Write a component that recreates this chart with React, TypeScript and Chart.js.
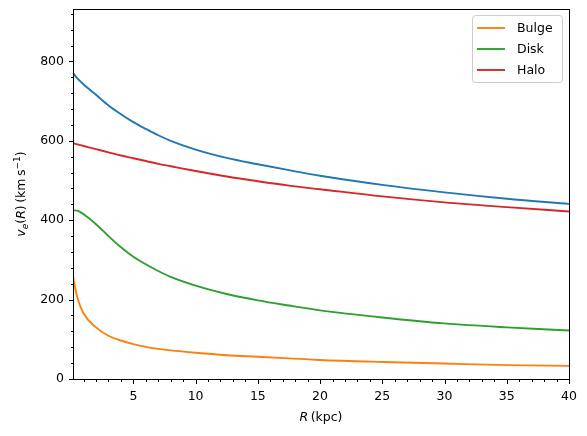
import React, { useEffect, useRef } from "react";
import { Chart, registerables } from "chart.js";

Chart.register(...registerables);

// Galactocentric radius R (kpc)
const radius = [0.15, 0.5, 1, 2, 3, 4, 5, 6, 7, 8, 10, 12.5, 15, 17.5, 20, 25, 30, 35, 40];
// Escape velocity v_e(R) (km/s)
const totalV = [771, 757, 742, 716, 689, 667, 647, 630, 614, 600, 578, 557, 541, 526, 512, 489, 470, 454, 441];
const bulgeV = [258, 205, 165, 130, 109, 97, 88, 81, 76, 72, 66, 60, 56, 52, 48, 43, 39, 35, 33];
const diskV = [425, 424, 415, 390, 360, 332, 308, 289, 272, 257, 235, 214, 198, 185, 173, 155, 140, 130, 122];
const haloV = [594, 591, 587, 579, 571, 563, 556, 549, 542, 536, 524, 510, 498, 487, 478, 460, 445, 433, 422];

const seriesLabels = ["", "Bulge", "Disk", "Halo"];
const seriesColors = ["#1f77b4", "#ff7f0e", "#2ca02c", "#d62728"];

const xMajorTicks = [5, 10, 15, 20, 25, 30, 35, 40];
const yMajorTicks = [0, 200, 400, 600, 800];
const xMinorStep = 1;
const yMinorStep = 40;
const xRange = [0.15, 40];
const yRange = [0, 932];

const FONT = "DejaVu Sans";
const FS = 12.5;

type Run = { t: string; italic?: boolean; size?: number; dy?: number };

function drawRuns(ctx: CanvasRenderingContext2D, runs: Run[], cx: number, by: number) {
  const fontOf = (r: Run) => `${r.italic ? "italic " : ""}${r.size ?? FS}px "${FONT}"`;
  let total = 0;
  for (const r of runs) {
    ctx.font = fontOf(r);
    total += ctx.measureText(r.t).width;
  }
  let x = cx - total / 2;
  ctx.textAlign = "left";
  ctx.textBaseline = "alphabetic";
  for (const r of runs) {
    ctx.font = fontOf(r);
    ctx.fillText(r.t, x, by + (r.dy ?? 0));
    x += ctx.measureText(r.t).width;
  }
}

const decorPlugin = {
  id: "decor",
  afterDraw(chart: any) {
    const { ctx, chartArea: a, scales } = chart;
    const xs = scales.x;
    const ys = scales.y;
    ctx.save();
    ctx.strokeStyle = "#000";
    ctx.fillStyle = "#000";
    ctx.lineWidth = 1;
    const L = Math.round(a.left) + 0.5;
    const R = Math.round(a.right) + 0.5;
    const T = Math.round(a.top) + 0.5;
    const B = Math.round(a.bottom) + 0.5;
    ctx.strokeRect(L, T, R - L, B - T);

    // x ticks
    for (let v = Math.ceil(xRange[0] / xMinorStep) * xMinorStep; v <= xRange[1] + 1e-9; v += xMinorStep) {
      const px = Math.round(xs.getPixelForValue(v)) + 0.5;
      const major = xMajorTicks.includes(v);
      ctx.beginPath();
      ctx.moveTo(px, B);
      ctx.lineTo(px, B + (major ? 4.5 : 2.5));
      ctx.stroke();
    }
    // y ticks
    for (let v = yRange[0]; v <= yRange[1] + 1e-9; v += yMinorStep) {
      const py = Math.round(ys.getPixelForValue(v)) + 0.5;
      const major = yMajorTicks.includes(v);
      ctx.beginPath();
      ctx.moveTo(L, py);
      ctx.lineTo(L - (major ? 4.5 : 2.5), py);
      ctx.stroke();
    }

    // axis titles
    drawRuns(ctx, [{ t: "R", italic: true }, { t: "\u2009(kpc)" }], (a.left + a.right) / 2, 421);
    ctx.save();
    ctx.translate(25, (a.top + a.bottom) / 2);
    ctx.rotate(-Math.PI / 2);
    drawRuns(
      ctx,
      [
        { t: "v", italic: true },
        { t: "e", italic: true, size: 9, dy: 2.5 },
        { t: "(" },
        { t: "R", italic: true },
        { t: ")" },
        { t: "\u2009(km\u2009s" },
        { t: "−1", size: 9, dy: -5 },
        { t: ")" },
      ],
      0,
      0
    );
    ctx.restore();

    // legend
    const items = chart.data.datasets.filter((d: any) => d.label);
    const bx = 472.5, by = 15.5, bw = 90, bh = 67, rr = 3;
    ctx.beginPath();
    ctx.moveTo(bx + rr, by);
    ctx.arcTo(bx + bw, by, bx + bw, by + bh, rr);
    ctx.arcTo(bx + bw, by + bh, bx, by + bh, rr);
    ctx.arcTo(bx, by + bh, bx, by, rr);
    ctx.arcTo(bx, by, bx + bw, by, rr);
    ctx.closePath();
    ctx.fillStyle = "rgba(255,255,255,0.8)";
    ctx.fill();
    ctx.strokeStyle = "#cccccc";
    ctx.stroke();
    items.forEach((d: any, i: number) => {
      const yy = 28 + i * 21;
      ctx.strokeStyle = d.borderColor;
      ctx.lineWidth = 1.9;
      ctx.beginPath();
      ctx.moveTo(477, yy);
      ctx.lineTo(505, yy);
      ctx.stroke();
      ctx.fillStyle = "#000";
      ctx.font = `${FS}px "${FONT}"`;
      ctx.textAlign = "left";
      ctx.textBaseline = "middle";
      ctx.fillText(d.label, 517, yy + 0.5);
    });
    ctx.restore();
  },
};

export default function App() {
  const ref = useRef<HTMLCanvasElement>(null);
  useEffect(() => {
    if (!ref.current) return;
    const series = [totalV, bulgeV, diskV, haloV];
    const chart = new Chart(ref.current, {
      type: "line",
      data: {
        datasets: series.map((vals, i) => ({
          label: seriesLabels[i],
          data: radius.map((r, j) => ({ x: r, y: vals[j] })),
          borderColor: seriesColors[i],
          backgroundColor: seriesColors[i],
          borderWidth: 1.9,
          pointRadius: 0,
          cubicInterpolationMode: "monotone" as const,
          fill: false,
        })),
      },
      options: {
        animation: false,
        responsive: false,
        devicePixelRatio: 1,
        layout: { padding: { top: 9, right: 18, left: 0, bottom: 0 } },
        plugins: { legend: { display: false }, tooltip: { enabled: false } },
        scales: {
          x: {
            type: "linear",
            min: xRange[0],
            max: xRange[1],
            grid: { display: false, drawTicks: false },
            border: { display: false },
            afterBuildTicks: (s: any) => {
              s.ticks = xMajorTicks.map((v) => ({ value: v }));
            },
            afterFit: (s: any) => {
              s.height = 57;
              s.paddingLeft = 0;
              s.paddingRight = 0;
            },
            ticks: {
              font: { family: FONT, size: FS },
              color: "#000",
              padding: 10,
              maxRotation: 0,
              callback: (v: any) => String(v),
            },
          },
          y: {
            type: "linear",
            min: yRange[0],
            max: yRange[1],
            grid: { display: false, drawTicks: false },
            border: { display: false },
            afterBuildTicks: (s: any) => {
              s.ticks = yMajorTicks.map((v) => ({ value: v }));
            },
            afterFit: (s: any) => {
              s.width = 73;
              s.paddingTop = 0;
              s.paddingBottom = 0;
            },
            ticks: {
              font: { family: FONT, size: FS },
              color: "#000",
              padding: 9,
              callback: (v: any) => String(v),
            },
          },
        },
      },
      plugins: [decorPlugin],
    });
    return () => chart.destroy();
  }, []);
  return (
    <div style={{ position: "fixed", left: 0, top: 0, width: 587, height: 436, background: "#fff" }}>
      <canvas ref={ref} width={587} height={436} style={{ width: 587, height: 436 }} />
    </div>
  );
}
